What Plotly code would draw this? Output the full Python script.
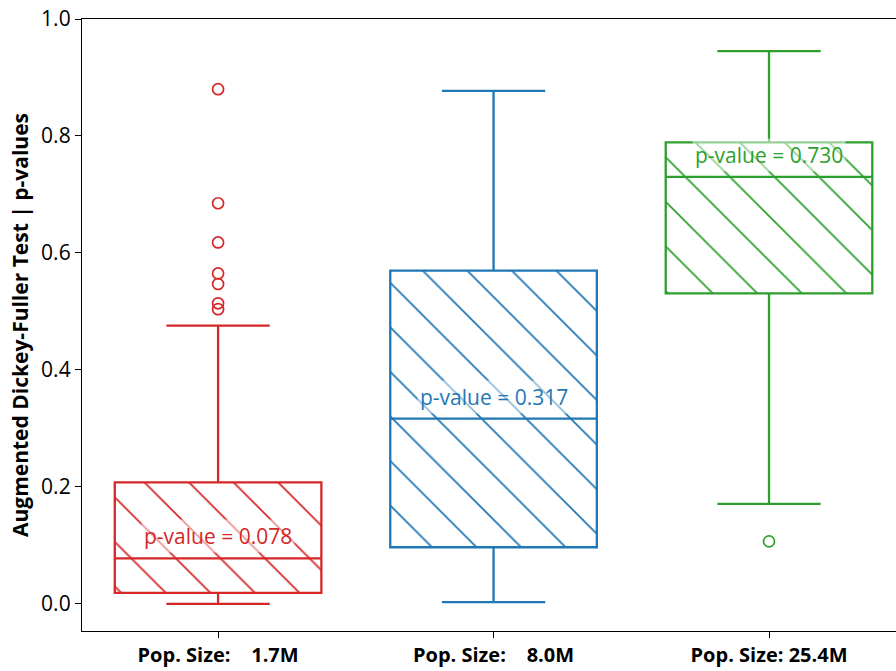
import plotly.graph_objects as go

# Box statistics of the ADF-test p-values for each population group
positions = [1, 2, 3]
tick_labels = [
    "Pop. Size:\u00a0\u00a0\u00a0\u00a01.7M",
    "Pop. Size:\u00a0\u00a0\u00a0\u00a08.0M",
    "Pop. Size:\u00a025.4M",
]
colors = ["#d62728", "#1f77b4", "#2ca02c"]

q1_vals = [0.019, 0.097, 0.531]
medians = [0.078, 0.317, 0.730]
q3_vals = [0.208, 0.570, 0.789]
lower_whiskers = [0.000, 0.003, 0.171]
upper_whiskers = [0.476, 0.877, 0.945]
outliers = [
    [0.880, 0.685, 0.618, 0.565, 0.547, 0.514, 0.504],
    [],
    [0.107],
]

FONT = "Open Sans"
fig = go.Figure()

for pos, col, q1, med, q3, lo, hi, outs in zip(
    positions, colors, q1_vals, medians, q3_vals, lower_whiskers, upper_whiskers, outliers
):
    # hatched fill of the interquartile range
    fig.add_trace(go.Bar(
        x=[pos], base=[q1], y=[q3 - q1], width=0.75,
        marker=dict(
            color="white",
            line=dict(width=0),
            pattern=dict(shape="\\", fgcolor=col, bgcolor="white",
                         fgopacity=1, size=31.5, solidity=0.055),
        ),
        showlegend=False, hoverinfo="skip",
    ))
    # box outline, median and whiskers
    fig.add_trace(go.Box(
        x=[pos], q1=[q1], median=[med], q3=[q3],
        lowerfence=[lo], upperfence=[hi],
        width=0.75, whiskerwidth=0.5,
        fillcolor="rgba(0,0,0,0)",
        line=dict(color=col, width=2.3),
        boxpoints=False, showlegend=False,
    ))
    # fliers
    if outs:
        fig.add_trace(go.Scatter(
            x=[pos] * len(outs), y=outs, mode="markers",
            marker=dict(symbol="circle-open", size=11, color=col,
                        line=dict(width=1.7, color=col)),
            showlegend=False,
        ))
    fig.add_annotation(
        x=pos, y=med, yshift=22, text=f"p-value = {med:.3f}",
        showarrow=False, font=dict(family=FONT, size=21, color=col),
        bgcolor="rgba(255,255,255,0.5)", borderpad=2,
    )

fig.update_layout(
    width=896, height=671,
    margin=dict(l=82, r=0, t=19, b=40),
    plot_bgcolor="white", paper_bgcolor="white",
    barmode="overlay", boxmode="overlay",
    font=dict(family=FONT, size=20, color="black"),
    xaxis=dict(
        range=[0.506, 3.461], tickmode="array", tickvals=positions,
        ticktext=[f"<b>{t}</b>" for t in tick_labels],
        showline=True, linecolor="black", linewidth=1.3, mirror=True,
        ticks="outside", ticklen=6, tickcolor="black", tickwidth=1.2,
        showgrid=False, zeroline=False,
        tickfont=dict(family=FONT, size=20, color="black"),
    ),
    yaxis=dict(
        range=[-0.0462, 1.0], tickmode="array",
        tickvals=[0.0, 0.2, 0.4, 0.6, 0.8, 1.0], tickformat=".1f",
        showline=True, linecolor="black", linewidth=1.3,
        ticks="outside", ticklen=6, tickcolor="black", tickwidth=1.2,
        showgrid=False, zeroline=False,
        tickfont=dict(family=FONT, size=21, color="black"),
        title=dict(text="<b>Augmented Dickey-Fuller Test | p-values</b>",
                   font=dict(family=FONT, size=21, color="black"), standoff=6),
    ),
)

fig.write_html("out.html")
